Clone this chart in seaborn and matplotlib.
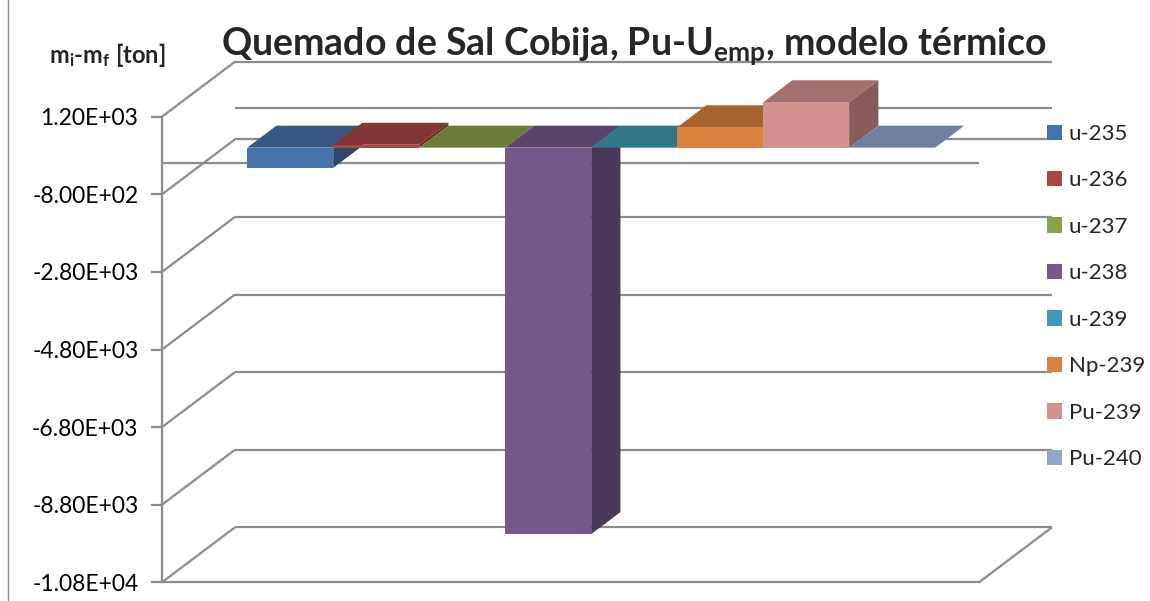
import numpy as np
import pandas as pd
import seaborn as sns
import matplotlib.pyplot as plt
import matplotlib.transforms as mtransforms
from matplotlib.patches import Polygon, Patch
from matplotlib.lines import Line2D
from matplotlib.colors import to_rgb

# data (m_i - m_f, ton)
ISOTOPES = ["u-235", "u-236", "u-237", "u-238", "u-239", "Np-239", "Pu-239", "Pu-240"]
DELTA_MASS = [-520, 75, 0, -9960, 0, 525, 1170, 0]
BAR_COLORS = ["#4674AA", "#AA4643", "#8AA14B", "#745A8C", "#409AB3", "#DA823E", "#D39190", "#92A6CD"]
Y_TICKS = [1200, -800, -2800, -4800, -6800, -8800, -10800]

TITLE = "Quemado de Sal Cobija, Pu-U$_{emp}$, modelo térmico"
Y_LABEL = "m$_i$-m$_f$ [ton]"

# layout in pixels (excel-like oblique 3d box)
FIG_W, FIG_H, DPI = 1150, 601, 100
AX_LEFT, AX_RIGHT, AX_TOP, AX_BOTTOM = 162, 979, 116.7, 582.3
WALL = (73, 55)          # depth of the whole box
BAR_SHIFT = (20.7, 15.6)  # front face of the bars
BAR_DEPTH = (29.2, 22.0)  # depth of one bar
GRID = "#8c8c8c"


def shade(color, k):
    return tuple(np.clip(np.array(to_rgb(color)) * k, 0, 1))


sns.set_theme(style="white")
plt.rcParams["font.family"] = ["Lato", "DejaVu Sans"]
plt.rcParams["mathtext.default"] = "regular"

fig = plt.figure(figsize=(FIG_W / DPI, FIG_H / DPI), dpi=DPI)
ax = fig.add_axes([AX_LEFT / FIG_W, 1 - AX_BOTTOM / FIG_H,
                   (AX_RIGHT - AX_LEFT) / FIG_W, (AX_BOTTOM - AX_TOP) / FIG_H])

df = pd.DataFrame({"grupo": "x", "isotopo": ISOTOPES, "valor": DELTA_MASS})
sns.barplot(data=df, x="grupo", y="valor", hue="isotopo", hue_order=ISOTOPES,
            palette=BAR_COLORS, saturation=1, width=0.842, dodge=True,
            legend=False, ax=ax, zorder=3)

y_min, y_max = Y_TICKS[-1], Y_TICKS[0]
ax.set_xlim(-0.5, 0.5)
ax.set_ylim(y_min, y_max)

sx = (AX_RIGHT - AX_LEFT) / 1.0
sy = (AX_BOTTOM - AX_TOP) / (y_max - y_min)
wx, wy = WALL[0] / sx, WALL[1] / sy
dx, dy = BAR_DEPTH[0] / sx, BAR_DEPTH[1] / sy

# walls: side diagonals + back gridlines
line_kw = dict(color=GRID, lw=1.6, clip_on=False, zorder=1, solid_capstyle="butt")
for t in Y_TICKS:
    ax.plot([-0.5, -0.5 + wx], [t, t + wy], **line_kw)
    ax.plot([-0.5 + wx, 0.5 + wx], [t + wy, t + wy], **line_kw)
# zero plane and floor edges
ax.plot([-0.5, 0.5], [0, 0], **line_kw)
ax.plot([-0.5 + wx, 0.5 + wx], [wy, wy], **line_kw)
ax.plot([0.5, 0.5 + wx], [y_min, y_min + wy], **line_kw)

# 3d faces for the bars
shift = mtransforms.ScaledTranslation(BAR_SHIFT[0] / DPI, BAR_SHIFT[1] / DPI, fig.dpi_scale_trans)
bars = sorted(ax.patches, key=lambda p: p.get_x())
for z, (bar, color) in enumerate(zip(bars, BAR_COLORS)):
    x0, w = bar.get_x(), bar.get_width()
    top = max(bar.get_y(), bar.get_y() + bar.get_height())
    bot = min(bar.get_y(), bar.get_y() + bar.get_height())
    tr = ax.transData + shift
    top_face = Polygon([(x0, top), (x0 + w, top), (x0 + w + dx, top + dy), (x0 + dx, top + dy)],
                       closed=True, facecolor=shade(color, 0.77), edgecolor="none",
                       transform=tr, zorder=3 + 3 * z, clip_on=False)
    side_face = Polygon([(x0 + w, bot), (x0 + w + dx, bot + dy), (x0 + w + dx, top + dy), (x0 + w, top)],
                        closed=True, facecolor=shade(color, 0.63), edgecolor="none",
                        transform=tr, zorder=3 + 3 * z, clip_on=False)
    ax.add_patch(top_face)
    ax.add_patch(side_face)
    bar.set_transform(tr)
    bar.set_clip_on(False)
    bar.set_zorder(4 + 3 * z)
    bar.set_edgecolor("none")

# axes look
for s in ["top", "right"]:
    ax.spines[s].set_visible(False)
for s in ["left", "bottom"]:
    ax.spines[s].set_color(GRID)
    ax.spines[s].set_linewidth(1.6)
ax.set_xticks([])
ax.set_yticks(Y_TICKS)
ax.set_yticklabels([f"{t:.2E}" for t in Y_TICKS])
ax.tick_params(axis="y", left=True, length=8, width=1.6, color=GRID, pad=9,
               labelsize=16.5, labelcolor="black")
ax.set_xlabel("")
ax.set_ylabel("")

fig.text(634 / FIG_W, 1 - 46 / FIG_H, TITLE, ha="center", va="center",
         fontsize=27, fontweight="bold")
fig.text(107 / FIG_W, 1 - 55 / FIG_H, Y_LABEL, ha="center", va="center",
         fontsize=17, fontweight="bold")

handles = [Patch(facecolor=c, edgecolor="none") for c in BAR_COLORS]
fig.legend(handles, ISOTOPES, loc="upper left", bbox_to_anchor=(1047 / FIG_W, 1 - 124 / FIG_H),
           frameon=False, fontsize=16, handlelength=0.68, handleheight=0.68,
           handletextpad=0.3, labelspacing=1.19, borderaxespad=0, borderpad=0)

# chart area border (left edge)
fig.add_artist(Line2D([8 / FIG_W, 8 / FIG_W], [0, 1], transform=fig.transFigure,
                      color=GRID, lw=1))

fig.savefig("out.png", dpi=DPI)
